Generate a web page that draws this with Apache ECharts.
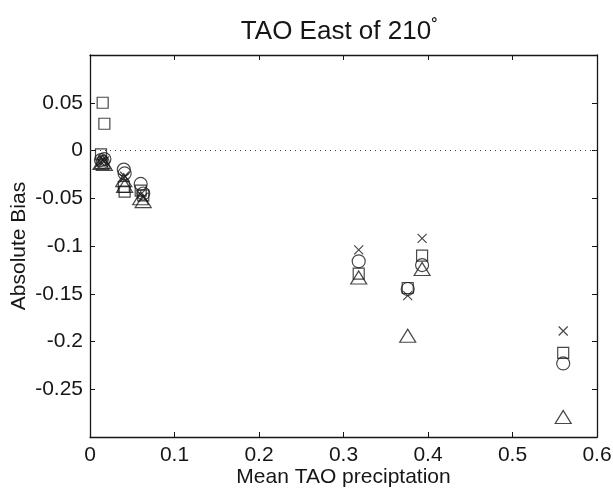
<!DOCTYPE html>
<html><head><meta charset="utf-8">
<script src="https://cdn.jsdelivr.net/npm/echarts@6/dist/echarts.min.js"></script>
<style>html,body{margin:0;padding:0;background:#fff}#c{width:613px;height:488px}</style>
</head><body><div id="c"></div>
<script>
var stationX = [0.013, 0.015, 0.017, 0.040, 0.041, 0.060, 0.063, 0.318, 0.376, 0.393, 0.560];
var squareVals = [-0.004, 0.050, 0.028, -0.038, -0.043, -0.042, -0.047, -0.129, -0.144, -0.110, -0.212];
var circleVals = [-0.010, -0.012, -0.009, -0.020, -0.024, -0.035, -0.045, -0.116, -0.145, -0.120, -0.223];
var crossVals = [-0.012, -0.010, -0.011, -0.029, -0.027, -0.046, -0.049, -0.104, -0.152, -0.092, -0.189];
var triangleVals = [-0.013, -0.012, -0.014, -0.031, -0.037, -0.050, -0.053, -0.133, -0.194, -0.124, -0.279];
var xTicks = [0, 0.1, 0.2, 0.3, 0.4, 0.5, 0.6];
var yTicks = [-0.25, -0.2, -0.15, -0.1, -0.05, 0, 0.05];

function pairs(v){ return stationX.map(function(x,i){ return [x, v[i]]; }); }
var FONT = 'Liberation Sans, Arial, Helvetica, sans-serif';
var ink = '#161616';
var chart = echarts.init(document.getElementById('c'), null, {renderer:'canvas'});
function mk(name, data, symbol, size){
  return {name:name, type:'scatter', data:data, symbol:symbol, symbolSize:size,
    itemStyle:{color:'rgba(0,0,0,0)', borderColor:'#1a1a1a', borderWidth:1.2},
    emphasis:{disabled:true}, z:5};
}
var fmtY = function(v){ var r = Number(v.toFixed(2)); return yTicks.indexOf(r) >= 0 ? String(r) : ''; };
chart.setOption({
  animation:false,
  title:{text:'{t|TAO East of 210}{d|°}', left:334, textAlign:'center', top:11,
    textStyle:{rich:{t:{fontFamily:FONT,fontSize:26,color:ink,fontWeight:'normal'},
      d:{fontFamily:FONT,fontSize:15,color:ink,verticalAlign:'top',padding:[0,0,17,0]}}}},
  grid:{left:90, right:16, top:55, bottom:51, containLabel:false, outerBoundsMode:'none'},
  xAxis:[{type:'value', min:0, max:0.6, interval:0.1, position:'bottom',
    name:'Mean TAO preciptation', nameLocation:'middle', nameGap:30, nameMoveOverlap:false,
    nameTextStyle:{fontFamily:FONT, fontSize:21, color:ink},
    axisLine:{show:true, onZero:false, lineStyle:{color:ink,width:1.3}},
    axisTick:{show:true, inside:true, length:5, lineStyle:{color:ink}},
    axisLabel:{fontFamily:FONT, fontSize:21, color:ink, margin:8,
      formatter:function(v){return String(Number(v.toFixed(2)));}},
    splitLine:{show:false}},
   {type:'value', min:0, max:0.6, interval:0.1, position:'top',
    axisLine:{show:true, onZero:false, lineStyle:{color:ink,width:1.3}},
    axisTick:{show:true, inside:true, length:5, lineStyle:{color:ink}},
    axisLabel:{show:false}, splitLine:{show:false}}],
  yAxis:[{type:'value', min:-0.3, max:0.1, interval:0.05, position:'left',
    name:'Absolute Bias', nameLocation:'middle', nameGap:60, nameMoveOverlap:false,
    nameTextStyle:{fontFamily:FONT, fontSize:21, color:ink},
    axisLine:{show:true, onZero:false, lineStyle:{color:ink,width:1.3}},
    axisTick:{show:true, inside:true, length:5, lineStyle:{color:ink}},
    axisLabel:{fontFamily:FONT, fontSize:21, color:ink, margin:7, formatter:fmtY},
    splitLine:{show:false}},
   {type:'value', min:-0.3, max:0.1, interval:0.05, position:'right',
    axisLine:{show:true, onZero:false, lineStyle:{color:ink,width:1.3}},
    axisTick:{show:true, inside:true, length:5, lineStyle:{color:ink}},
    axisLabel:{show:false}, splitLine:{show:false}}],
  series:[
    Object.assign(mk('square', pairs(squareVals), 'rect', 11), {
      markLine:{silent:true, symbol:['none','none'], label:{show:false},
        lineStyle:{type:[1,4], color:'#444', width:1}, data:[{yAxis:0}]}}),
    mk('circle', pairs(circleVals), 'circle', 13),
    mk('cross', pairs(crossVals), 'path://M0,0L10,10M10,0L0,10', 9),
    mk('triangle', pairs(triangleVals), 'path://M0,10L6,0L12,10Z', [16,13])
  ]
});
</script></body></html>
